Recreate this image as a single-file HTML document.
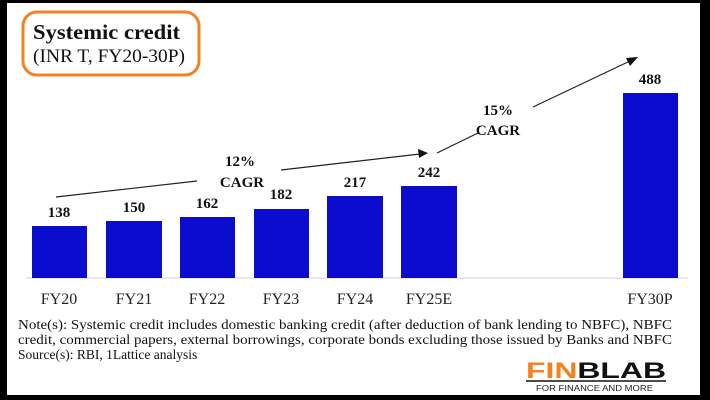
<!DOCTYPE html>
<html><head><style>
html,body{margin:0;padding:0;background:#000;}
svg{display:block;}
svg text{font-family:"Liberation Serif","Times New Roman",serif;}
svg text.sans{font-family:"Liberation Sans",Arial,sans-serif;}
</style></head><body>
<svg width="710" height="400" xmlns="http://www.w3.org/2000/svg">
<rect x="0" y="0" width="710" height="400" fill="#000"/>
<rect x="7" y="3" width="693" height="392" fill="#fff"/>
<rect x="23" y="12" width="176" height="63" rx="14" fill="none" stroke="#f58220" stroke-width="3"/>
<text x="33" y="39" font-size="21" font-weight="bold" fill="#111" textLength="147" lengthAdjust="spacingAndGlyphs">Systemic credit</text>
<text x="33" y="62" font-size="19" fill="#111" textLength="152" lengthAdjust="spacingAndGlyphs">(INR T, FY20-30P)</text>
<line x1="26" y1="278" x2="688" y2="278" stroke="#d0d0d0" stroke-width="1"/>
<g fill="#0c0cce">
<rect x="32" y="226" width="55" height="52"/>
<rect x="106" y="221" width="56" height="57"/>
<rect x="180" y="217" width="55" height="61"/>
<rect x="254" y="209" width="55" height="69"/>
<rect x="327" y="196" width="56" height="82"/>
<rect x="401" y="186" width="56" height="92"/>
<rect x="623" y="93" width="55" height="185"/>
</g>
<g font-size="15" font-weight="bold" fill="#111" text-anchor="middle">
<text x="59" y="217">138</text>
<text x="134" y="212">150</text>
<text x="207" y="208">162</text>
<text x="281" y="199">182</text>
<text x="355" y="187">217</text>
<text x="429" y="177">242</text>
<text x="650" y="84">488</text>
<text x="240" y="166">12%</text>
<text x="242" y="187">CAGR</text>
<text x="498" y="115">15%</text>
<text x="498" y="135">CAGR</text>
</g>
<g font-size="16" fill="#222" text-anchor="middle">
<text x="59" y="304">FY20</text>
<text x="134" y="304">FY21</text>
<text x="207" y="304">FY22</text>
<text x="281" y="304">FY23</text>
<text x="355" y="304">FY24</text>
<text x="429" y="304">FY25E</text>
<text x="650" y="304">FY30P</text>
</g>
<g stroke="#222" stroke-width="1.2" fill="none">
<line x1="56" y1="197" x2="197" y2="181"/>
<line x1="281" y1="170" x2="420" y2="154"/>
<line x1="437" y1="153" x2="478" y2="133"/>
<line x1="533" y1="107" x2="630" y2="61"/>
</g>
<polygon points="428,153 418,149 419,158" fill="#111"/>
<polygon points="638,57 626,58 630,66" fill="#111"/>
<g font-size="13.5" fill="#111">
<text x="18" y="329" textLength="654" lengthAdjust="spacingAndGlyphs">Note(s): Systemic credit includes domestic banking credit (after deduction of bank lending to NBFC), NBFC</text>
<text x="18" y="344" textLength="654" lengthAdjust="spacingAndGlyphs">credit, commercial papers, external borrowings, corporate bonds excluding those issued by Banks and NBFC</text>
<text x="18" y="359">Source(s): RBI, 1Lattice analysis</text>
</g>
<text class="sans" x="526" y="378" font-size="22" font-weight="bold" textLength="140" lengthAdjust="spacingAndGlyphs"><tspan fill="#f58220">FIN</tspan><tspan fill="#111">BLAB</tspan></text>
<line x1="526" y1="381" x2="666" y2="381" stroke="#111" stroke-width="1.5"/>
<text class="sans" x="536" y="391" font-size="8.5" fill="#222" textLength="117" lengthAdjust="spacingAndGlyphs">FOR FINANCE AND MORE</text>
</svg>
</body></html>
